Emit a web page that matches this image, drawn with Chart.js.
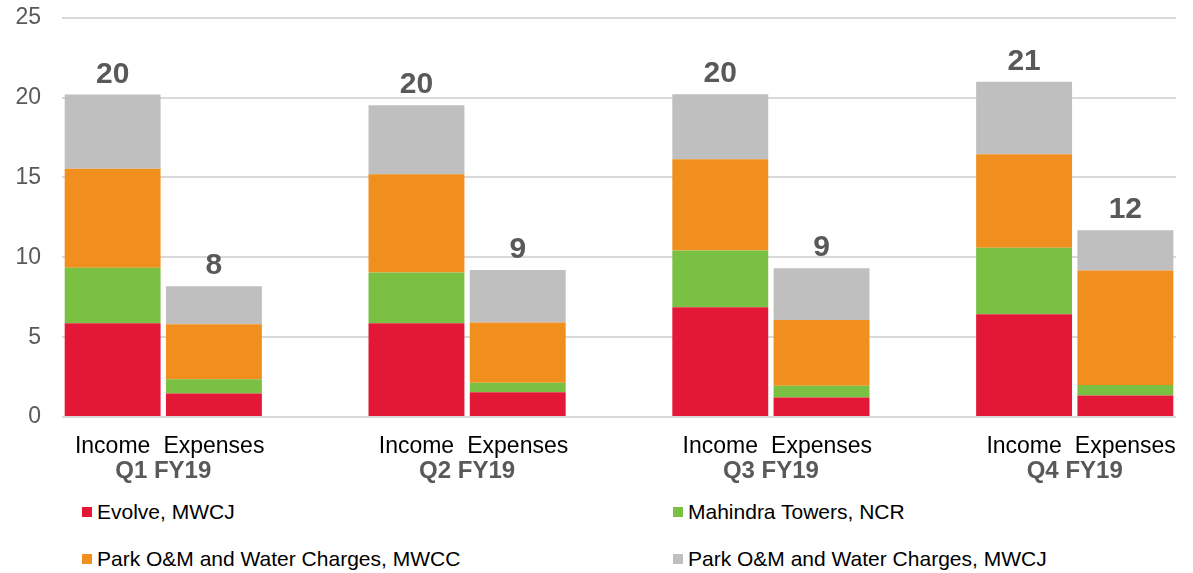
<!DOCTYPE html>
<html>
<head>
<meta charset="utf-8">
<script src="https://cdn.jsdelivr.net/npm/chart.js@4/dist/chart.umd.min.js"></script>
<style>
  html, body { margin: 0; padding: 0; background: #fff; overflow: hidden; }
  #wrap { position: relative; width: 1193px; height: 573px; overflow: hidden; font-family: 'Liberation Sans', Arial, sans-serif; }
  #c { position: absolute; left: 0; top: -17px; }
  .lg { position: absolute; font-size: 21px; color: #000; white-space: nowrap; line-height: 24px; }
  .lg span.sw { position: absolute; left: 0; top: 7px; width: 10px; height: 10px; }
  .lg span.tx { position: absolute; left: 15px; top: 0; }
</style>
</head>
<body>
<div id="wrap">
  <canvas id="c" width="1193" height="514"></canvas>
</div>
<script>
// ---- data ----
const quarters = ['Q1 FY19', 'Q2 FY19', 'Q3 FY19', 'Q4 FY19'];
const barTypes = ['Income', 'Expenses'];
const seriesNames = ['Evolve, MWCJ', 'Mahindra Towers, NCR', 'Park O&M and Water Charges, MWCC', 'Park O&M and Water Charges, MWCJ'];
const seriesColors = ['#E31837', '#7AC143', '#F18F1E', '#BFBFBF'];

const evolveIncome     = [5.87, 5.87, 6.88, 6.44];
const evolveExpenses   = [1.47, 1.55, 1.22, 1.34];
const mahindraIncome   = [3.47, 3.18, 3.55, 4.16];
const mahindraExpenses = [0.90, 0.59, 0.73, 0.66];
const mwccIncome       = [6.21, 6.15, 5.71, 5.86];
const mwccExpenses     = [3.44, 3.78, 4.12, 7.17];
const mwcjIncome       = [4.64, 4.32, 4.07, 4.53];
const mwcjExpenses     = [2.38, 3.29, 3.25, 2.52];

const yTicks = [0, 5, 10, 15, 20, 25];

// ---- build slots: Income, Expenses, gap, ... ----
const categories = [];
const quarterSlots = [];
quarters.forEach((q, i) => {
  quarterSlots.push([categories.length, categories.length + 1]);
  categories.push(barTypes[0], barTypes[1]);
  if (i < quarters.length - 1) categories.push('');
});
function slots(inc, exp) {
  const out = [];
  quarters.forEach((q, i) => {
    out.push(inc[i], exp[i]);
    if (i < quarters.length - 1) out.push(null);
  });
  return out;
}
const seriesData = [
  slots(evolveIncome, evolveExpenses),
  slots(mahindraIncome, mahindraExpenses),
  slots(mwccIncome, mwccExpenses),
  slots(mwcjIncome, mwcjExpenses)
];

const FONT = "'Liberation Sans', Arial, sans-serif";

const totalsPlugin = {
  id: 'totals',
  afterDatasetsDraw(chart) {
    const ctx = chart.ctx;
    const lastMeta = chart.getDatasetMeta(chart.data.datasets.length - 1);
    ctx.save();
    ctx.font = 'bold 30px ' + FONT;
    ctx.fillStyle = '#595959';
    ctx.textAlign = 'center';
    ctx.textBaseline = 'alphabetic';
    categories.forEach((c, i) => {
      let sum = 0;
      chart.data.datasets.forEach(ds => { if (ds.data[i] != null) sum += ds.data[i]; });
      if (!sum) return;
      const el = lastMeta.data[i];
      const y = chart.scales.y.getPixelForValue(sum);
      ctx.fillText(String(Math.round(sum)), el.x, y - 12);
    });
    ctx.restore();
  }
};

const quarterLabelPlugin = {
  id: 'quarterLabels',
  afterDraw(chart) {
    const ctx = chart.ctx;
    const xs = chart.scales.x;
    ctx.save();
    ctx.font = 'bold 24px ' + FONT;
    ctx.fillStyle = '#595959';
    ctx.textAlign = 'center';
    ctx.textBaseline = 'middle';
    quarters.forEach((q, i) => {
      const [a, b] = quarterSlots[i];
      const cx = (xs.getPixelForValue(a) + xs.getPixelForValue(b)) / 2;
      ctx.fillText(q, cx, xs.top + 54);
    });
    ctx.restore();
  }
};

new Chart(document.getElementById('c'), {
  type: 'bar',
  data: {
    labels: categories,
    datasets: seriesNames.map((n, k) => ({
      label: n,
      data: seriesData[k],
      backgroundColor: seriesColors[k],
      borderWidth: 0,
      barPercentage: 0.947,
      categoryPercentage: 1
    }))
  },
  options: {
    responsive: false,
    devicePixelRatio: 1,
    animation: false,
    layout: { padding: { top: 1, right: 17, left: 0, bottom: 0 } },
    plugins: { legend: { display: false }, tooltip: { enabled: false } },
    scales: {
      x: {
        stacked: true,
        grid: { display: false, drawTicks: false },
        border: { display: false },
        ticks: { autoSkip: false, maxRotation: 0, minRotation: 0, padding: 16, color: '#000', font: { family: FONT, size: 23 } },
        afterFit(s) { s.height = 80; }
      },
      y: {
        stacked: true,
        min: 0,
        max: 25,
        afterBuildTicks(s) { s.ticks = yTicks.map(v => ({ value: v })); },
        grid: { color: '#D9D9D9', lineWidth: 2, drawTicks: false },
        border: { display: false },
        ticks: { padding: 21, color: '#595959', font: { family: FONT, size: 23 } },
        afterFit(s) { s.width = 62; }
      }
    }
  },
  plugins: [totalsPlugin, quarterLabelPlugin]
});

// ---- legend ----
const wrap = document.getElementById('wrap');
const legendPos = [[82, 500], [673, 500], [82, 547], [673, 547]];
seriesNames.forEach((n, k) => {
  const d = document.createElement('div');
  d.className = 'lg';
  d.style.left = legendPos[k][0] + 'px';
  d.style.top = legendPos[k][1] + 'px';
  const sw = document.createElement('span');
  sw.className = 'sw';
  sw.style.background = seriesColors[k];
  const tx = document.createElement('span');
  tx.className = 'tx';
  tx.textContent = n;
  d.appendChild(sw); d.appendChild(tx);
  wrap.appendChild(d);
});
</script>
</body>
</html>
